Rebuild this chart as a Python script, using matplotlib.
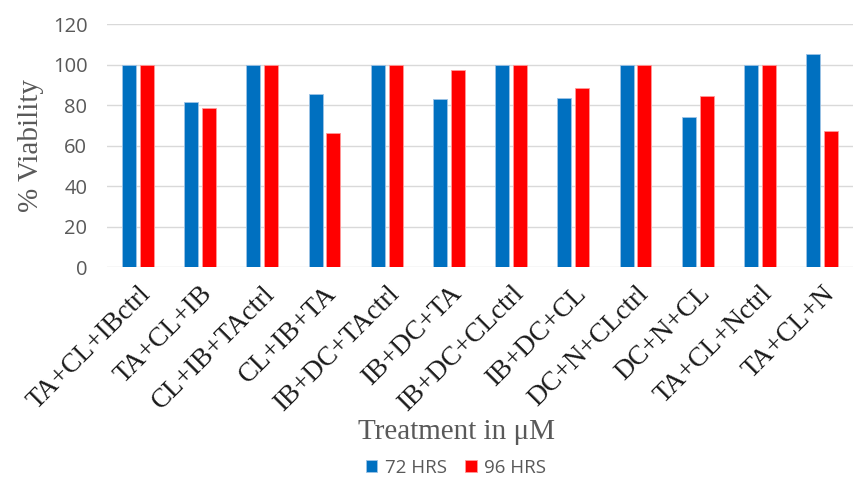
import numpy as np
import matplotlib.pyplot as plt

treatments = ['TA+CL+IBctrl', 'TA+CL+IB', 'CL+IB+TActrl', 'CL+IB+TA',
              'IB+DC+TActrl', 'IB+DC+TA', 'IB+DC+CLctrl', 'IB+DC+CL',
              'DC+N+CLctrl', 'DC+N+CL', 'TA+CL+Nctrl', 'TA+CL+N']
hrs72 = [100, 81.6, 100, 85.6, 100, 83.1, 100, 83.6, 100, 74.2, 100, 105.3]
hrs96 = [100, 78.6, 100, 66.4, 100, 97.5, 100, 88.6, 100, 84.8, 100, 67.5]

fig = plt.figure(figsize=(8.54, 4.86), dpi=100)
ax = fig.add_axes([0.125, 0.45, 0.874, 0.50])

x = np.arange(len(treatments))
w = 0.225
gap = 0.06
ax.bar(x - (w + gap) / 2, hrs72, w, color='#0070C0', edgecolor='#9DC3E6',
       linewidth=0.6, label='72 HRS', zorder=3)
ax.bar(x + (w + gap) / 2, hrs96, w, color='#FF0000', edgecolor='#FF9999',
       linewidth=0.6, label='96 HRS', zorder=3)

ax.set_xlim(-0.5, len(treatments) - 0.5)
ax.set_ylim(0, 120)
ax.set_yticks(range(0, 121, 20))
ax.grid(axis='y', color='#D9D9D9', linewidth=1, zorder=0)
for s in ax.spines.values():
    s.set_visible(False)
ax.tick_params(length=0)
ax.tick_params(axis='y', labelsize=14.5, labelcolor='#595959', pad=14)
for lab in ax.get_yticklabels():
    lab.set_family('Open Sans')

ax.set_xticks(x)
ax.set_xticklabels(treatments, rotation=45, ha='right', rotation_mode='anchor',
                   family='Liberation Serif', fontsize=19.5, color='#1a1a1a')
ax.tick_params(axis='x', pad=10)

ax.set_ylabel('% Viability', family='Liberation Serif', fontsize=21,
              color='#595959', labelpad=6)
fig.text(0.534, 0.111, 'Treatment in μM', family='Liberation Serif', fontsize=21,
         color='#595959', ha='center', va='center')

leg = fig.legend(loc='center', bbox_to_anchor=(0.534, 0.037), ncol=2, frameon=False,
                 prop={'family': 'Open Sans', 'size': 13.5}, handlelength=0.6,
                 handleheight=0.6, handletextpad=0.4, columnspacing=1.0)
for t in leg.get_texts():
    t.set_color('#595959')

fig.savefig('out.png', dpi=100)
